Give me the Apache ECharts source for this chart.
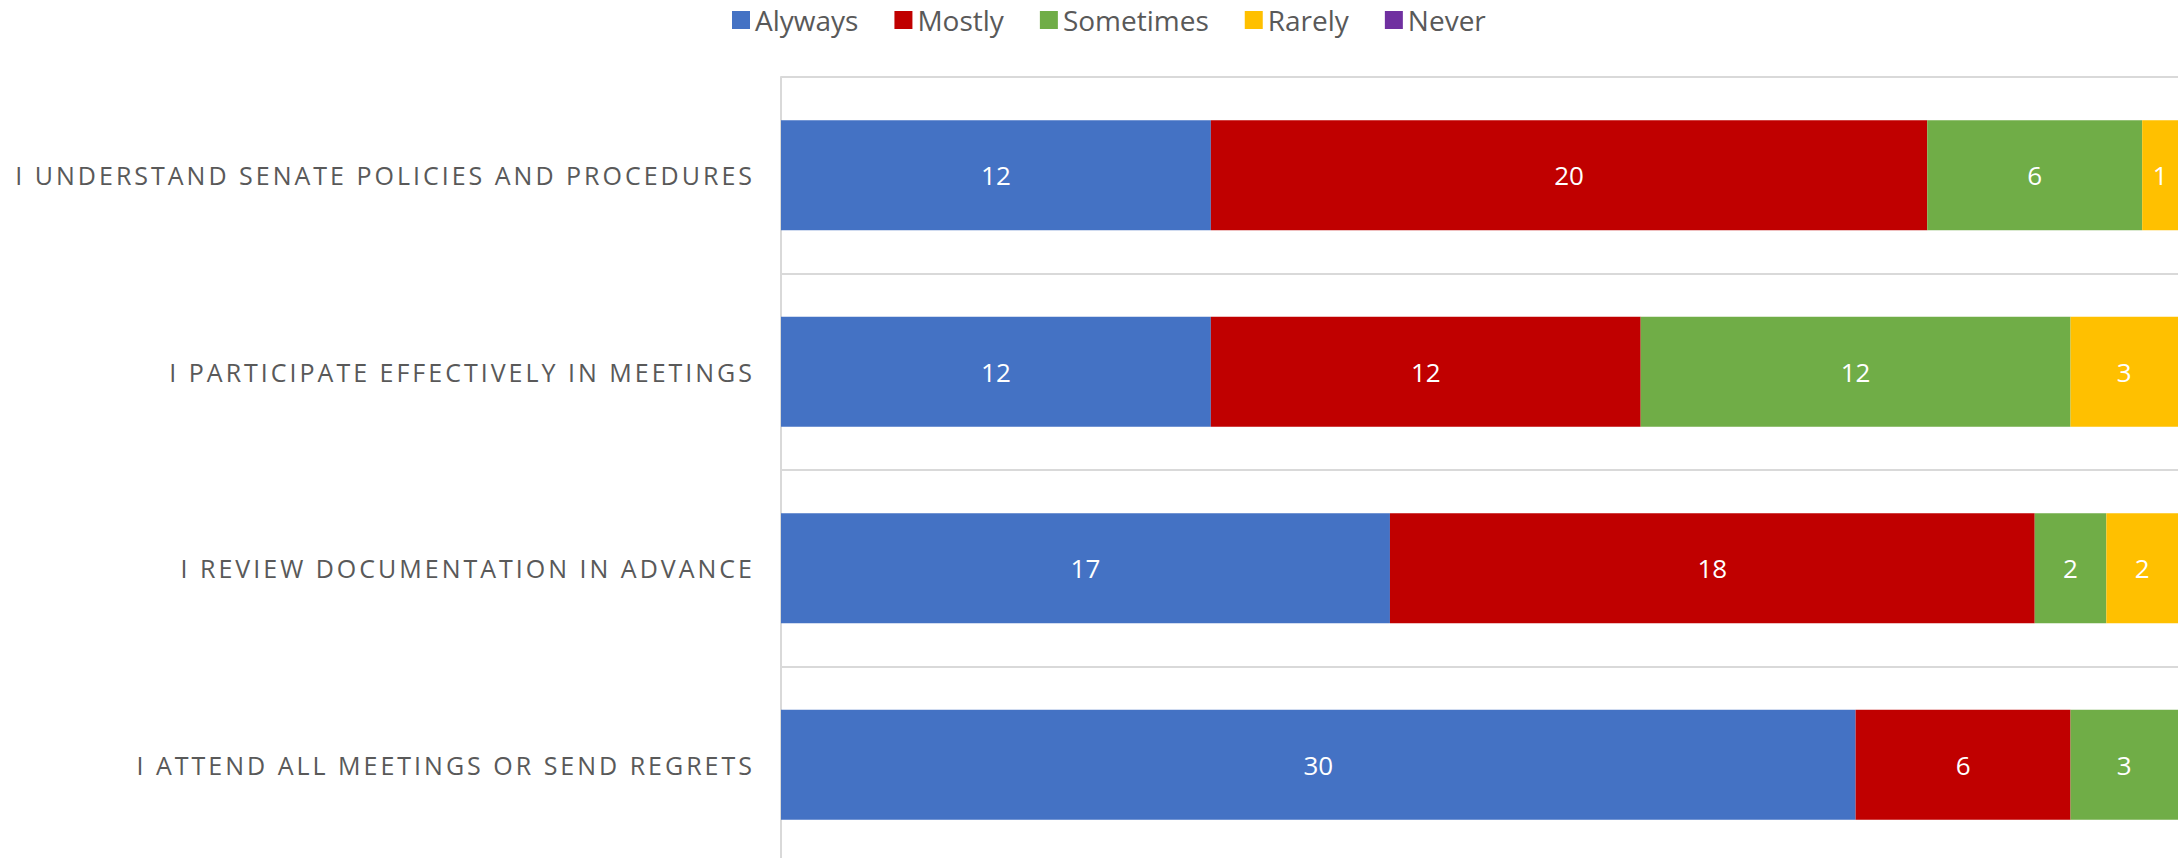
<!DOCTYPE html>
<html>
<head>
<meta charset="utf-8">
<script src="https://cdn.jsdelivr.net/npm/echarts@6/dist/echarts.min.js"></script>
<style>
html,body{margin:0;padding:0;background:#fff;}
#chart{width:2182px;height:858px;}
</style>
</head>
<body>
<div id="chart"></div>
<script>
const categories = [
  'I UNDERSTAND SENATE POLICIES AND PROCEDURES',
  'I PARTICIPATE EFFECTIVELY IN MEETINGS',
  'I REVIEW DOCUMENTATION IN ADVANCE',
  'I ATTEND ALL MEETINGS OR SEND REGRETS'
];
const seriesNames = ['Alyways', 'Mostly', 'Sometimes', 'Rarely', 'Never'];
const alwaysVals = [12, 12, 17, 30];
const mostlyVals = [20, 12, 18, 6];
const sometimesVals = [6, 12, 2, 3];
const rarelyVals = [1, 3, 2, 0];
const neverVals = [0, 0, 0, 0];
const colors = ['#4472C4', '#C00000', '#70AD47', '#FFC000', '#7030A0'];
const allVals = [alwaysVals, mostlyVals, sometimesVals, rarelyVals, neverVals];

const FONT = 'Open Sans';
const chart = echarts.init(document.getElementById('chart'), null, {renderer: 'svg'});
const option = {
  animation: false,
  backgroundColor: '#ffffff',
  color: colors,
  legend: {
    data: seriesNames,
    left: 732,
    top: 6,
    padding: 0,
    icon: 'rect',
    itemWidth: 18,
    itemHeight: 18,
    itemGap: 36,
    textStyle: {fontFamily: FONT, fontSize: 28, color: '#595959'}
  },
  grid: {left: 781, right: 4, top: 77, height: 786, containLabel: false, outerBoundsMode: 'none'},
  xAxis: {
    type: 'value', min: 0, max: 39, show: false,
    splitLine: {show: false}
  },
  yAxis: {
    type: 'category',
    data: categories,
    inverse: true,
    axisLine: {show: true, lineStyle: {color: '#d9d9d9', width: 2}},
    axisTick: {show: false},
    splitLine: {show: true, lineStyle: {color: '#d9d9d9', width: 2}},
    axisLabel: {
      fontFamily: FONT, fontSize: 25, color: '#595959', margin: 26
    }
  },
  series: seriesNames.map((name, i) => ({
    name: name,
    type: 'bar',
    stack: 'total',
    barWidth: '56%',
    data: allVals[i],
    itemStyle: {color: colors[i]},
    label: {
      show: true, position: 'inside', color: '#ffffff',
      fontFamily: FONT, fontSize: 26,
      formatter: p => (p.value ? String(p.value) : '')
    }
  }))
};
chart.setOption(option);
function spaceLabels(){
  document.querySelectorAll('#chart text').forEach(t => {
    if (categories.includes(t.textContent.trim())) {
      t.setAttribute('letter-spacing', '3');
      t.style.letterSpacing = '3px';
    }
  });
}
spaceLabels();
chart.on('finished', spaceLabels);
setTimeout(spaceLabels, 50);
</script>
</body>
</html>
